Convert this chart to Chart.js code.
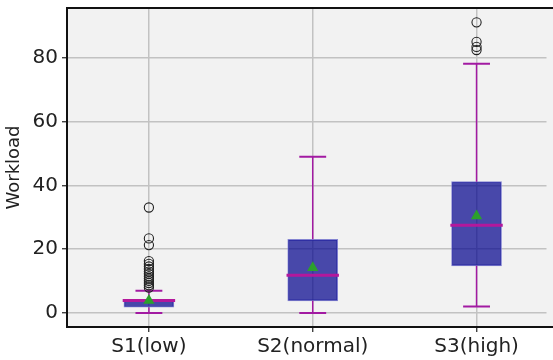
<!DOCTYPE html>
<html>
<head>
<meta charset="utf-8">
<script src="https://cdn.jsdelivr.net/npm/chart.js@4"></script>
<style>
  html, body { margin: 0; padding: 0; background: #fff; overflow: hidden; }
  #wrap { width: 553px; height: 360px; }
</style>
</head>
<body>
<div id="wrap"><canvas id="boxChart"></canvas></div>
<script>
// box plot values
const categories = ["S1(low)", "S2(normal)", "S3(high)"];
const whiskerLow = [0, 0, 2];
const q1 = [1.8, 3.8, 14.8];
const median = [3.9, 11.8, 27.5];
const q3 = [4.3, 23.1, 41.2];
const whiskerHigh = [7, 49, 78.2];
const means = [3.9, 14.2, 30.4];
const outliers = [
  [8, 8.7, 9.4, 10.1, 10.8, 11.5, 12.3, 13, 13.8, 14.6, 15.4, 16.3, 21.3, 23.4, 33.1],
  [],
  [82.5, 83.5, 85.1, 91.2]
];
const yTicks = [0, 20, 40, 60, 80];

const boxColor = "rgba(0, 0, 139, 0.7)";
const whiskerColor = "#a21aa2";
const medianColor = "#b4189c";

const capHalf = 0.082;
const medHalf = 0.16;

// one line segment per dataset (whiskers, caps, medians)
function segment(a, b, color, width, order) {
  return {
    type: "line",
    data: [a, b],
    borderColor: color,
    borderWidth: width,
    pointRadius: 0,
    fill: false,
    order: order
  };
}

const datasets = [];

datasets.push({
  type: "bar",
  data: categories.map((c, i) => ({ x: i, y: [q1[i], q3[i]] })),
  backgroundColor: boxColor,
  borderColor: "rgba(120, 120, 205, 0.9)",
  borderWidth: 1,
  borderSkipped: false,
  barThickness: 50,
  order: 6
});

categories.forEach((c, i) => {
  datasets.push(segment({ x: i, y: whiskerLow[i] }, { x: i, y: q1[i] }, whiskerColor, 1.5, 5));
  datasets.push(segment({ x: i, y: q3[i] }, { x: i, y: whiskerHigh[i] }, whiskerColor, 1.5, 5));
  datasets.push(segment({ x: i - capHalf, y: whiskerLow[i] }, { x: i + capHalf, y: whiskerLow[i] }, whiskerColor, 2, 5));
  datasets.push(segment({ x: i - capHalf, y: whiskerHigh[i] }, { x: i + capHalf, y: whiskerHigh[i] }, whiskerColor, 2, 5));
  datasets.push(segment({ x: i - medHalf, y: median[i] }, { x: i + medHalf, y: median[i] }, medianColor, 3, 3));
});

datasets.push({
  type: "scatter",
  data: outliers.flatMap((arr, i) => arr.map(v => ({ x: i, y: v }))),
  pointStyle: "circle",
  pointRadius: 4.6,
  backgroundColor: "rgba(0,0,0,0)",
  borderColor: "#222",
  borderWidth: 1.1,
  order: 2
});

datasets.push({
  type: "scatter",
  data: means.map((v, i) => ({ x: i, y: v })),
  pointStyle: "triangle",
  pointRadius: 6.5,
  backgroundColor: "#2ca02c",
  borderColor: "#2ca02c",
  borderWidth: 0,
  order: 1
});

// matplotlib-like background and spines (axes run past the right edge)
const frame = {
  id: "frame",
  beforeDraw(chart) {
    const { ctx, chartArea: a } = chart;
    ctx.save();
    ctx.fillStyle = "#f2f2f2";
    ctx.fillRect(a.left, a.top, chart.width - a.left, a.bottom - a.top);
    ctx.restore();
  },
  afterDatasetsDraw(chart) {
    const { ctx, chartArea: a } = chart;
    ctx.save();
    ctx.strokeStyle = "#111";
    ctx.lineWidth = 2;
    ctx.beginPath();
    ctx.moveTo(chart.width, a.top);
    ctx.lineTo(a.left, a.top);
    ctx.lineTo(a.left, a.bottom);
    ctx.lineTo(chart.width, a.bottom);
    ctx.stroke();
    ctx.restore();
  }
};

new Chart(document.getElementById("boxChart"), {
  data: { datasets: datasets },
  options: {
    responsive: true,
    maintainAspectRatio: false,
    animation: false,
    layout: { padding: { top: 8, right: 0, left: 0, bottom: 0 } },
    plugins: { legend: { display: false }, tooltip: { enabled: false } },
    scales: {
      x: {
        type: "linear",
        min: -0.5,
        max: 2.427,
        offset: false,
        afterBuildTicks: s => { s.ticks = categories.map((c, i) => ({ value: i })); },
        afterFit: s => { s.height = 33; s.paddingLeft = 0; s.paddingRight = 0; },
        ticks: {
          callback: v => categories[v],
          color: "#222",
          font: { family: "DejaVu Sans", size: 20 },
          padding: 3,
          maxRotation: 0,
          autoSkip: false
        },
        grid: { offset: false, color: "#c2c2c2", lineWidth: 1.5, drawTicks: true, tickLength: 5, tickColor: "#222", tickWidth: 1.2 },
        border: { display: false }
      },
      y: {
        min: -4.4,
        max: 95.7,
        afterBuildTicks: s => { s.ticks = yTicks.map(v => ({ value: v })); },
        afterFit: s => { s.width = 67; s.paddingTop = 0; s.paddingBottom = 0; },
        ticks: {
          color: "#222",
          font: { family: "DejaVu Sans", size: 20 },
          padding: 4
        },
        title: {
          display: true,
          text: "Workload",
          color: "#222",
          font: { family: "DejaVu Sans", size: 18 },
          padding: { top: 4, bottom: 0 }
        },
        grid: { color: "#c2c2c2", lineWidth: 1.5, drawTicks: true, tickLength: 5, tickColor: "#222", tickWidth: 1.2 },
        border: { display: false }
      }
    }
  },
  plugins: [frame]
});
</script>
</body>
</html>
